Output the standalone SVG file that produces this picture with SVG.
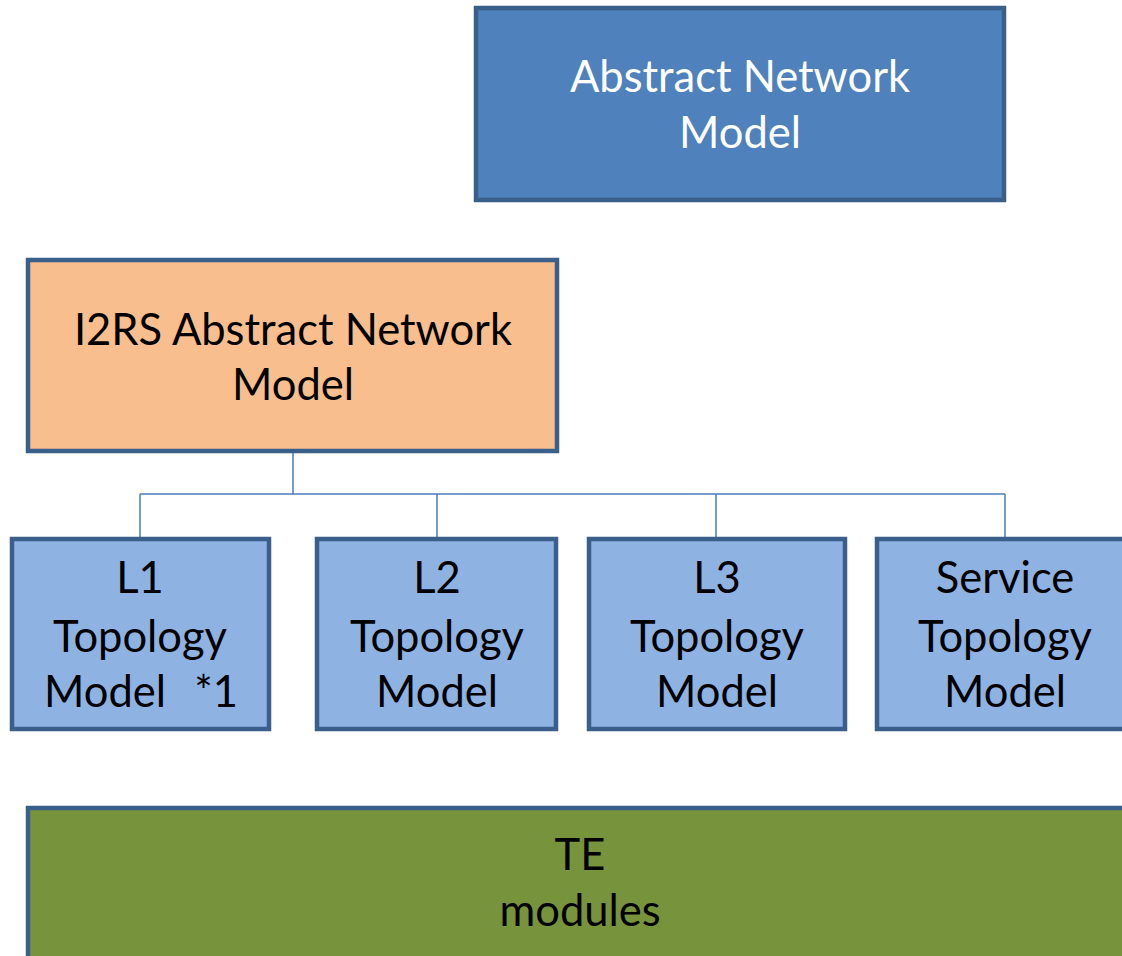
<svg xmlns="http://www.w3.org/2000/svg" width="1122" height="956" viewBox="0 0 1122 956">
<style>
.box{stroke:#3A5F8B;stroke-width:4.5}
.t{font-family:Lato,"Open Sans","Liberation Sans",sans-serif;font-size:43.5px;text-anchor:middle;fill:#000}
.w{fill:#fff}
.c{fill:none;stroke:#4A7EBB;stroke-width:1.5}
</style>
<rect width="1122" height="956" fill="#fff"/>
<g id="connectors">
<path class="c" d="M293 453V494M140 494H1005M140 494V537M437 494V537M716 494V537M1005 494V537"/>
</g>
<g id="abstract">
<rect class="box" x="476" y="8" width="528" height="192" fill="#4F81BD"/>
<text class="t w" x="740" y="92">Abstract Network</text>
<text class="t w" x="740" y="148">Model</text>
</g>
<g id="i2rs">
<rect class="box" x="28" y="260" width="529" height="191" fill="#F8BE8E"/>
<text class="t" x="293" y="345">I2RS Abstract Network</text>
<text class="t" x="293" y="400">Model</text>
</g>
<g id="l1">
<rect class="box" x="12" y="539" width="257" height="190" fill="#8EB3E3"/>
<text class="t" x="140" y="593">L1</text>
<text class="t" x="140" y="652">Topology</text>
<text class="t" x="105" y="707">Model</text>
<text class="t" x="216" y="707">*1</text>
</g>
<g id="l2">
<rect class="box" x="317" y="539" width="239" height="190" fill="#8EB3E3"/>
<text class="t" x="437" y="593">L2</text>
<text class="t" x="437" y="652">Topology</text>
<text class="t" x="437" y="707">Model</text>
</g>
<g id="l3">
<rect class="box" x="589" y="539" width="256" height="190" fill="#8EB3E3"/>
<text class="t" x="717" y="593">L3</text>
<text class="t" x="717" y="652">Topology</text>
<text class="t" x="717" y="707">Model</text>
</g>
<g id="service">
<rect class="box" x="877" y="539" width="260" height="190" fill="#8EB3E3"/>
<text class="t" x="1005" y="593">Service</text>
<text class="t" x="1005" y="652">Topology</text>
<text class="t" x="1005" y="707">Model</text>
</g>
<g id="te">
<rect class="box" x="28" y="808" width="1110" height="170" fill="#77933C"/>
<text class="t" x="580" y="870">TE</text>
<text class="t" x="580" y="926">modules</text>
</g>
</svg>
